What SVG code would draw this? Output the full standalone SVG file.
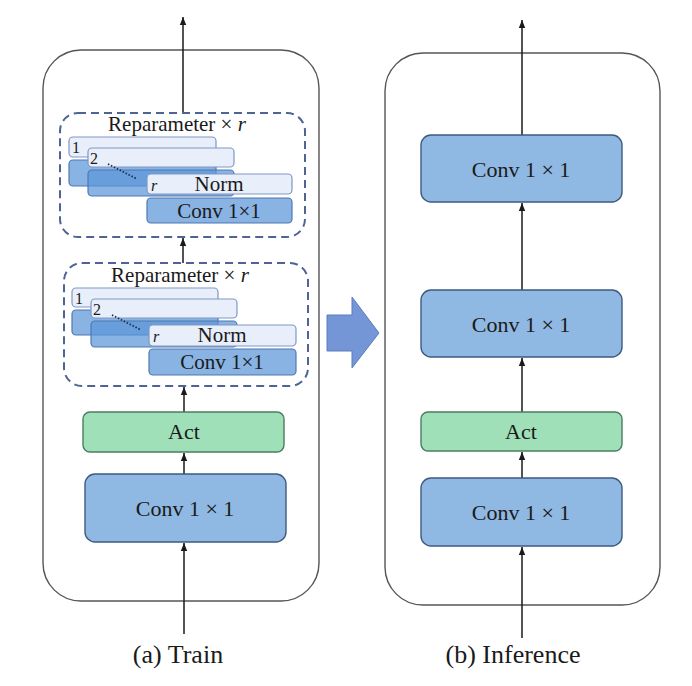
<svg xmlns="http://www.w3.org/2000/svg" width="692" height="686" viewBox="0 0 692 686">
<defs>
<marker id="ah" markerUnits="userSpaceOnUse" markerWidth="8" markerHeight="8" viewBox="0 0 8 8" refX="8" refY="4" orient="auto">
<path d="M0,0.8 L8,4 L0,7.2 Z" fill="#1a1a1a"/>
</marker>
<style>
text{font-family:"Liberation Serif","Times New Roman",serif;fill:#1a1a1a;text-anchor:middle}
.cont{fill:#fff;stroke:#555;stroke-width:1.4}
.conv{fill:#8fb8e2;stroke:#3e5a80;stroke-width:1.4}
.act{fill:#9fe0b9;stroke:#4b7d60;stroke-width:1.4}
.dash{fill:none;stroke:#4d6494;stroke-width:2;stroke-dasharray:8 5}
.norm{fill:#e8eefa;stroke:#7f98c6;stroke-width:1.2}
.sconv{fill:#5a96d8;fill-opacity:0.72;stroke:#4f79b2;stroke-width:1.2}
.edge{stroke:#1a1a1a;stroke-width:1.5;fill:none;marker-end:url(#ah)}
.dot{stroke:#1f2d4d;stroke-width:1.8;stroke-dasharray:1.5 1.8;fill:none}
.big{font-size:22px}
.mid{font-size:21px}
.small{font-size:16px;text-anchor:start}
.it{font-style:italic}
</style>
</defs>
<rect width="692" height="686" fill="#fff"/>
<g id="train-container"><rect class="cont" x="43" y="50" width="276" height="551" rx="38"/></g>
<g id="inference-container"><rect class="cont" x="385" y="53" width="275" height="552" rx="38"/></g>

<g id="connectors">
<line class="edge" x1="184" y1="634" x2="184" y2="543"/>
<line class="edge" x1="184" y1="474" x2="184" y2="453"/>
<line class="edge" x1="184" y1="412" x2="184" y2="387"/>
<line class="edge" x1="183" y1="263" x2="183" y2="238"/>
<line class="edge" x1="183" y1="113" x2="183" y2="17"/>
<line class="edge" x1="522" y1="638" x2="522" y2="547"/>
<line class="edge" x1="522" y1="478" x2="522" y2="452"/>
<line class="edge" x1="522" y1="412" x2="522" y2="358"/>
<line class="edge" x1="522" y1="290" x2="522" y2="203"/>
<line class="edge" x1="522" y1="135" x2="522" y2="20"/>
</g>

<g id="rep-block-1">
<rect class="dash" x="60" y="113" width="245" height="124" rx="18"/>
<text class="mid" x="177" y="131">Reparameter × <tspan class="it">r</tspan></text>
<rect class="norm" x="69" y="137" width="147" height="20" rx="4"/>
<text class="small" x="72" y="153">1</text>
<rect class="sconv" x="69" y="160" width="147" height="26" rx="4"/>
<rect class="norm" x="88" y="148" width="146" height="19" rx="4"/>
<text class="small" x="90" y="164">2</text>
<rect class="sconv" x="88" y="170" width="146" height="26" rx="4"/>
<line class="dot" x1="108" y1="164" x2="137" y2="179"/>
<rect class="norm" x="147" y="174" width="145" height="20" rx="4"/>
<text class="small it" x="151" y="191">r</text>
<text class="mid" x="219" y="191">Norm</text>
<rect class="sconv" x="147" y="198" width="145" height="25" rx="4"/>
<text class="mid" x="219" y="218">Conv 1×1</text>
</g>

<g id="rep-block-2">
<rect class="dash" x="64" y="263" width="244" height="123" rx="18"/>
<text class="mid" x="180" y="282">Reparameter × <tspan class="it">r</tspan></text>
<rect class="norm" x="72" y="288" width="146" height="19" rx="4"/>
<text class="small" x="75" y="304">1</text>
<rect class="sconv" x="72" y="310" width="146" height="25" rx="4"/>
<rect class="norm" x="91" y="299" width="146" height="19" rx="4"/>
<text class="small" x="93" y="315">2</text>
<rect class="sconv" x="91" y="321" width="146" height="26" rx="4"/>
<line class="dot" x1="112" y1="315" x2="141" y2="330"/>
<rect class="norm" x="149" y="325" width="147" height="21" rx="4"/>
<text class="small it" x="153" y="342">r</text>
<text class="mid" x="222" y="342">Norm</text>
<rect class="sconv" x="149" y="349" width="147" height="26" rx="4"/>
<text class="mid" x="222" y="369">Conv 1×1</text>
</g>

<g id="train-act">
<rect class="act" x="83" y="412" width="201" height="40" rx="7"/>
<text class="big" x="184" y="439">Act</text>
</g>
<g id="train-conv">
<rect class="conv" x="85" y="474" width="201" height="68" rx="10"/>
<text class="big" x="185" y="516">Conv 1 × 1</text>
</g>

<g id="inf-conv-top">
<rect class="conv" x="421" y="135" width="201" height="67" rx="10"/>
<text class="big" x="521" y="177">Conv 1 × 1</text>
</g>
<g id="inf-conv-mid">
<rect class="conv" x="421" y="290" width="201" height="67" rx="10"/>
<text class="big" x="521" y="332">Conv 1 × 1</text>
</g>
<g id="inf-act">
<rect class="act" x="421" y="412" width="201" height="39" rx="7"/>
<text class="big" x="521" y="439">Act</text>
</g>
<g id="inf-conv-bottom">
<rect class="conv" x="421" y="478" width="201" height="68" rx="10"/>
<text class="big" x="521" y="520">Conv 1 × 1</text>
</g>

<g id="transform-arrow">
<path d="M327,315 L352,315 L352,297 L379,333 L352,368 L352,351 L327,351 Z" fill="#7596d6" stroke="#5b7cc0" stroke-width="1"/>
</g>

<g id="captions">
<text x="178" y="663" style="font-size:26px">(a) Train</text>
<text x="513" y="663" style="font-size:26px">(b) Inference</text>
</g>
</svg>
